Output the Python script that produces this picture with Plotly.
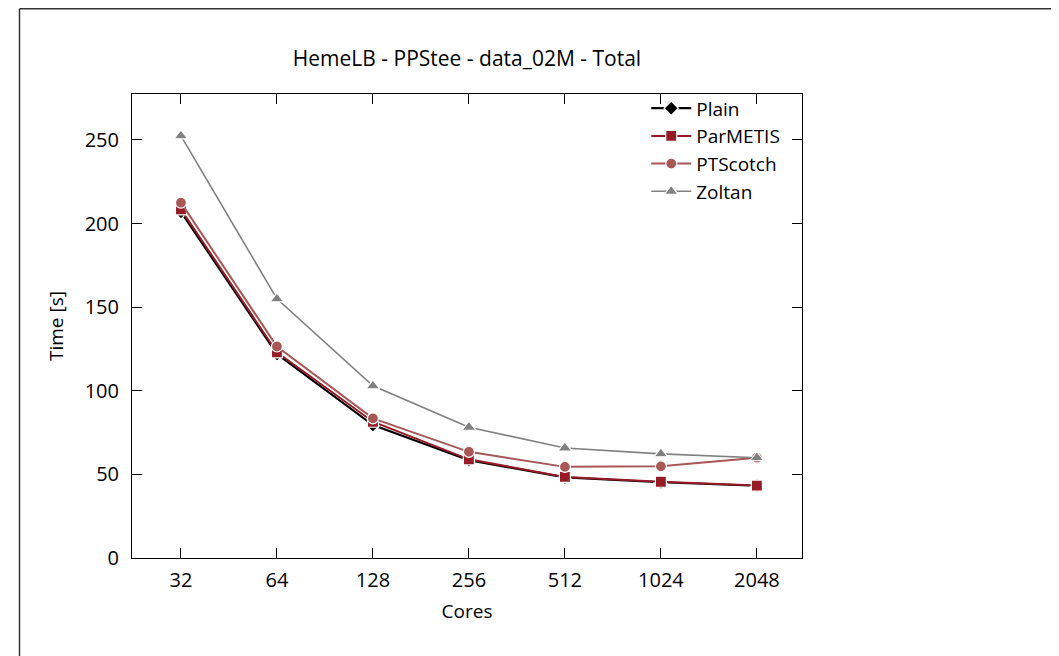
import plotly.graph_objects as go

cores = ["32", "64", "128", "256", "512", "1024", "2048"]
plain = [207, 122, 79.5, 58.5, 48.2, 45.3, 43.2]
parmetis = [208.5, 123, 81.5, 59, 48.5, 45.6, 43.3]
ptscotch = [212.5, 126.5, 83.5, 63.5, 54.5, 54.8, 60]
zoltan = [252.5, 155, 103, 78.2, 65.8, 62.3, 60]

series = [
    ("Plain", plain, "#000000", "diamond", 2.2, 11),
    ("ParMETIS", parmetis, "#951b26", "square", 2.0, 11),
    ("PTScotch", ptscotch, "#a85757", "circle", 2.0, 11),
    ("Zoltan", zoltan, "#808080", "triangle-up", 1.6, 12),
]

fig = go.Figure()
for name, vals, color, sym, lw, ms in series:
    fig.add_trace(go.Scatter(
        x=cores, y=vals, name=name, mode="lines+markers",
        line=dict(color=color, width=lw),
        marker=dict(symbol=sym, size=ms, color=color,
                    line=dict(color="white", width=1.2)),
    ))

# page offset of 8px (body margin) is accounted for in margins
L, T, R, B = 124, 86, 794, 550
W, H = 1059, 656
font = "'Open Sans', sans-serif"
fig.update_layout(
    width=W, height=H,
    margin=dict(l=L, r=W - R, t=T, b=H - B),
    paper_bgcolor="white", plot_bgcolor="white",
    font=dict(family=font, size=19, color="#000000"),
    title=dict(text="HemeLB - PPStee - data_02M - Total", x=(L + R) / 2 / W,
               xanchor="center", y=1 - 51 / H, yanchor="middle",
               font=dict(size=21)),
    showlegend=True,
    legend=dict(x=0.975, xanchor="right", y=1.01, yanchor="top",
                bgcolor="rgba(0,0,0,0)", font=dict(size=19),
                tracegroupgap=0, itemwidth=40),
    xaxis=dict(type="category", range=[-0.51, 6.47], showgrid=False,
               showline=True, linecolor="#000000", linewidth=1, mirror="allticks",
               ticks="inside", ticklen=10, tickcolor="#000000",
               ticklabelstandoff=4, tickfont=dict(size=20),
               title=dict(text="Cores", standoff=12, font=dict(size=19)),
               zeroline=False),
    yaxis=dict(range=[0, 277.5], tickvals=[0, 50, 100, 150, 200, 250],
               showgrid=False, showline=True, linecolor="#000000", linewidth=1,
               mirror="allticks", ticks="inside", ticklen=10, tickcolor="#000000",
               ticklabelstandoff=8, tickfont=dict(size=20),
               title=dict(text="Time [s]", standoff=16, font=dict(size=19)),
               zeroline=False),
    shapes=[
        dict(type="line", xref="paper", yref="paper",
             x0=(11.5 - L) / (R - L), x1=(1070 - L) / (R - L),
             y0=(B - 0.75) / (B - T), y1=(B - 0.75) / (B - T),
             line=dict(color="#333333", width=1.5)),
        dict(type="line", xref="paper", yref="paper",
             x0=(11.5 - L) / (R - L), x1=(11.5 - L) / (R - L),
             y0=(B - 0.75) / (B - T), y1=(B - 680) / (B - T),
             line=dict(color="#333333", width=1.5)),
    ],
)

fig.write_html("out.html")
